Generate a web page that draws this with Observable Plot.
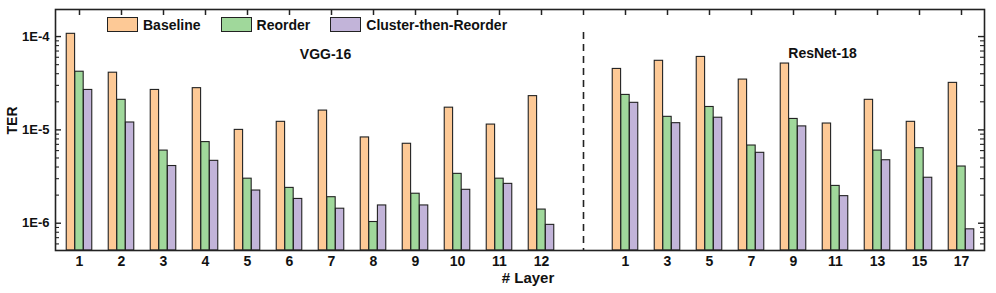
<!DOCTYPE html>
<html><head><meta charset="utf-8">
<script src="https://cdn.jsdelivr.net/npm/d3@7"></script>
<script src="https://cdn.jsdelivr.net/npm/@observablehq/plot@0.6"></script>
<style>
body{margin:0;background:#fff;font-family:"Liberation Sans",Arial,sans-serif;}
#wrap{position:relative;width:996px;height:293px;}
#legend{position:absolute;left:107px;top:17px;display:flex;gap:20px;font-weight:bold;font-size:14px;color:#111;}
.item{display:flex;align-items:center;gap:5px;height:15px;}
.sw{width:29px;height:13px;border:1.2px solid #222;box-sizing:content-box;}
</style></head>
<body>
<div id="wrap"><div id="chart"></div><div id="legend"></div></div>
<script>
const series = ["Baseline", "Reorder", "Cluster-then-Reorder"];
const colors = ["#fdc996", "#a0d89b", "#c2b4d9"];

const vggLayers = ["1","2","3","4","5","6","7","8","9","10","11","12"];
const resLayers = ["1","3","5","7","9","11","13","15","17"];

const vggBaseline = [1.07e-4, 4.1e-5, 2.68e-5, 2.8e-5, 1.0e-5, 1.22e-5, 1.61e-5, 8.3e-6, 7.1e-6, 1.73e-5, 1.14e-5, 2.3e-5];
const vggReorder  = [4.2e-5, 2.1e-5, 6.0e-6, 7.4e-6, 3.0e-6, 2.39e-6, 1.9e-6, 1.03e-6, 2.07e-6, 3.38e-6, 3.0e-6, 1.40e-6];
const vggCluster  = [2.68e-5, 1.2e-5, 4.1e-6, 4.66e-6, 2.24e-6, 1.82e-6, 1.43e-6, 1.55e-6, 1.55e-6, 2.28e-6, 2.64e-6, 9.6e-7];

const resBaseline = [4.5e-5, 5.5e-5, 6.05e-5, 3.46e-5, 5.14e-5, 1.17e-5, 2.1e-5, 1.22e-5, 3.19e-5];
const resReorder  = [2.37e-5, 1.38e-5, 1.76e-5, 6.8e-6, 1.31e-5, 2.51e-6, 6.0e-6, 6.37e-6, 4.05e-6];
const resCluster  = [1.95e-5, 1.18e-5, 1.35e-5, 5.68e-6, 1.09e-5, 1.95e-6, 4.73e-6, 3.07e-6, 8.6e-7];

const yTicks = [1e-6, 1e-5, 1e-4];
const yTickLabels = ["1E-6", "1E-5", "1E-4"];
const yDomain = [5.1e-7, 1.95e-4];

// slots: VGG layers, a gap, ResNet layers
const slots = [...vggLayers.map(l => "V" + l), "gap", ...resLayers.map(l => "R" + l)];
const slotLabels = [...vggLayers, "", ...resLayers];
const labelOf = new Map(slots.map((s, i) => [s, slotLabels[i]]));

const data = [];
[[vggBaseline, vggReorder, vggCluster], [resBaseline, resReorder, resCluster]].forEach((arrs, net) => {
  const layers = net === 0 ? vggLayers : resLayers;
  const prefix = net === 0 ? "V" : "R";
  arrs.forEach((vals, si) => vals.forEach((v, i) => data.push({slot: prefix + layers[i], series: series[si], si, value: v})));
});

const W = 996, H = 293, mL = 55, mR = 12, mT = 9, mB = 43;
const fw = W - mL - mR, fh = H - mT - mB;
const bw = fw / slots.length;
const groupW = 0.61 * bw, barW = groupW / 3, off = (bw - groupW) / 2;

// minor log ticks
const yMinor = [];
for (let e = -7; e <= -4; e++) for (let m = 2; m <= 9; m++) {
  const v = m * Math.pow(10, e);
  if (v >= yDomain[0] && v <= yDomain[1]) yMinor.push(v);
}

const ink = "#222";
const marks = [];
series.forEach((s, si) => {
  const left = off + si * barW;
  marks.push(Plot.barY(data.filter(d => d.si === si), {
    x: "slot", y1: yDomain[0], y2: "value",
    fill: colors[si], stroke: ink, strokeWidth: 1.1,
    insetLeft: left, insetRight: bw - left - barW
  }));
});
marks.push(
  Plot.ruleX(["gap"], {x: d => d, insetTop: 23, stroke: ink, strokeWidth: 1.6, strokeDasharray: "7,5"}),
  Plot.ruleX(slots, {x: d => d, insetBottom: fh - 6, stroke: ink, strokeWidth: 1.5}),
  Plot.ruleY(yTicks, {y: d => d, insetRight: fw - 6, stroke: ink, strokeWidth: 1.4}),
  Plot.ruleY(yMinor, {y: d => d, insetRight: fw - 4, stroke: ink, strokeWidth: 1.1}),
  Plot.ruleY(yTicks, {y: d => d, insetLeft: fw - 6, stroke: ink, strokeWidth: 1.4}),
  Plot.ruleY(yMinor, {y: d => d, insetLeft: fw - 4, stroke: ink, strokeWidth: 1.1}),
  Plot.axisY({ticks: yTicks, tickFormat: d => yTickLabels[yTicks.indexOf(d)], tickSize: 0, tickPadding: 6, label: null, fontSize: 13}),
  Plot.axisX({tickSize: 0, tickPadding: 6, tickFormat: d => labelOf.get(d), label: null, fontSize: 14}),
  Plot.text(["VGG-16"], {x: ["V7"], frameAnchor: "top", lineAnchor: "middle", dy: 45, dx: -6, fontSize: 14, fill: "#111"}),
  Plot.text(["ResNet-18"], {x: ["R9"], frameAnchor: "top", lineAnchor: "middle", dy: 44, dx: 29, fontSize: 14, fill: "#111"}),
  Plot.text(["# Layer"], {frameAnchor: "bottom", lineAnchor: "middle", dy: 28, dx: 8, fontSize: 15, fill: "#111"}),
  Plot.text(["TER"], {frameAnchor: "left", textAnchor: "middle", lineAnchor: "middle", rotate: -90, dx: -42.5, dy: -9.5, fontSize: 14, fill: "#111"}),
  Plot.frame({stroke: ink, strokeWidth: 1.6})
);

const chart = Plot.plot({
  width: W, height: H,
  marginLeft: mL, marginRight: mR, marginTop: mT, marginBottom: mB,
  style: {fontFamily: "'Liberation Sans', Arial, sans-serif", fontWeight: "bold", color: "#111", background: "#fff", overflow: "visible"},
  x: {type: "band", domain: slots, padding: 0, axis: null},
  y: {type: "log", domain: yDomain, axis: null},
  marks
});
document.getElementById("chart").appendChild(chart);

const legend = document.getElementById("legend");
series.forEach((s, i) => {
  const it = document.createElement("div"); it.className = "item";
  const sw = document.createElement("div"); sw.className = "sw"; sw.style.background = colors[i];
  const t = document.createElement("span"); t.textContent = s;
  it.append(sw, t); legend.append(it);
});
</script>
</body></html>
